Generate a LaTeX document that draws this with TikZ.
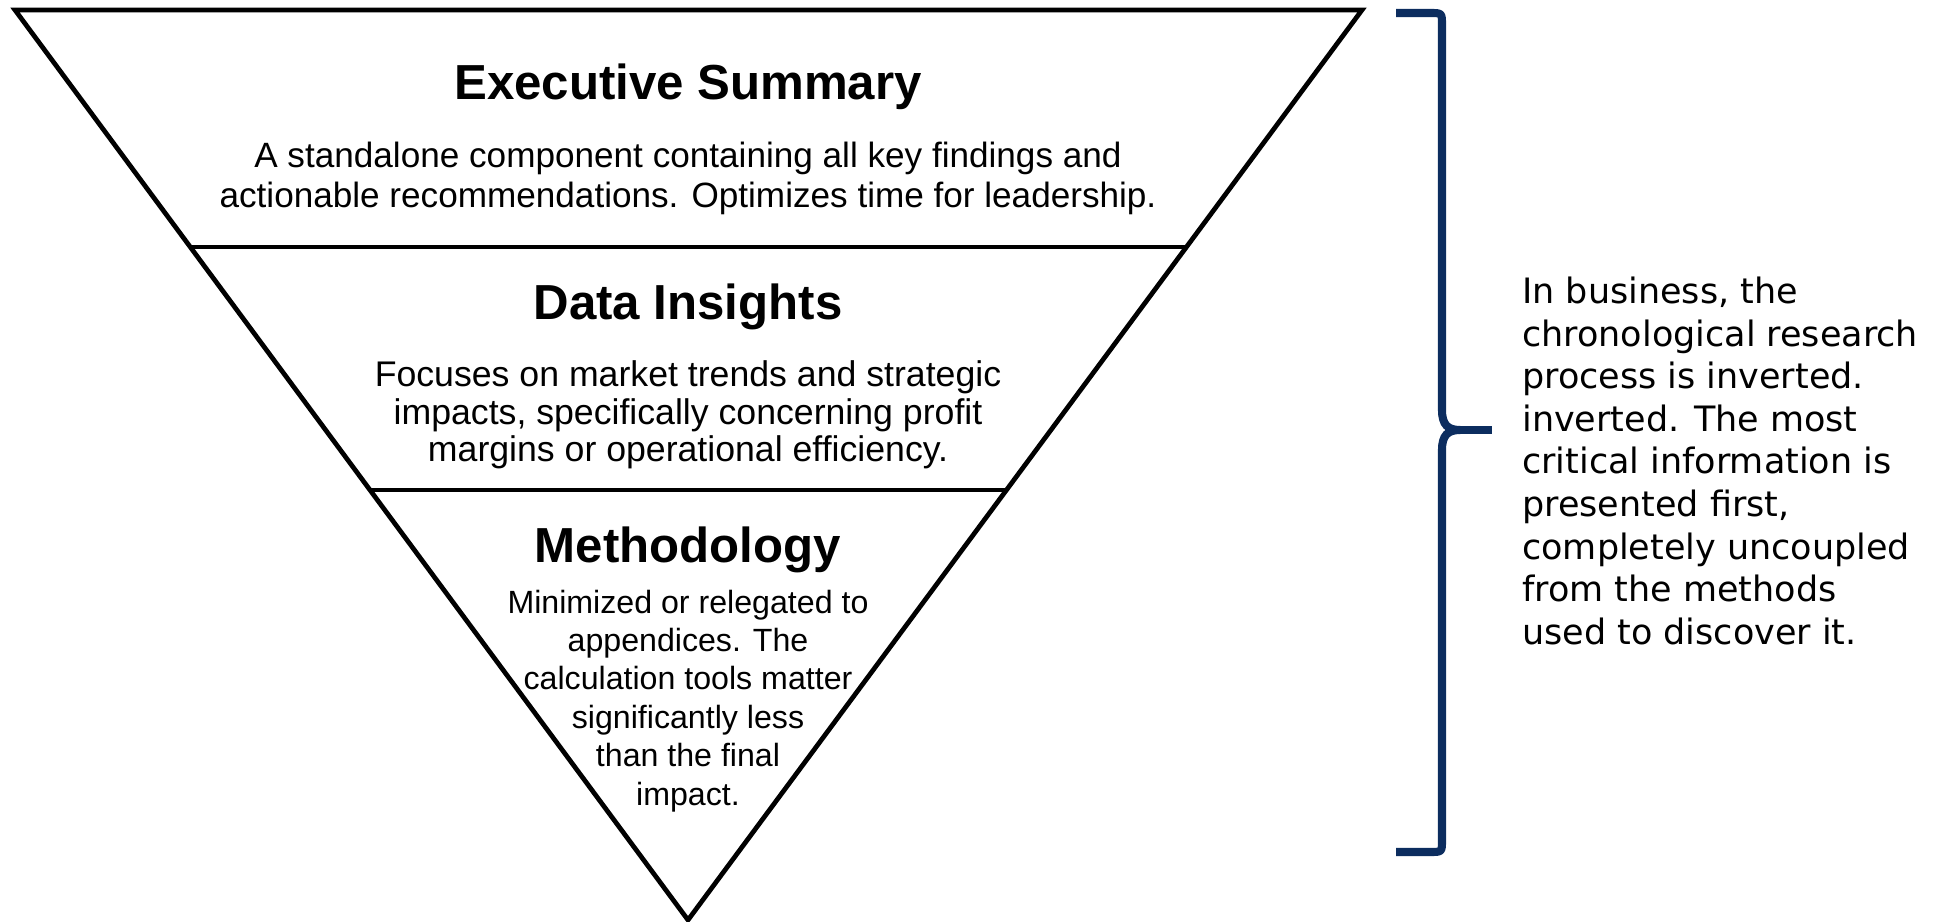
\documentclass[tikz,border=0pt]{standalone}
\usepackage{fontspec}
\setmainfont{Liberation Sans}
\newfontfamily\notefont{DejaVu Sans}
\usetikzlibrary{positioning,calc}
\definecolor{bracenavy}{RGB}{12,45,95}

\begin{document}
\begin{tikzpicture}
[x=0.02cm,y=-0.02cm,
layer/.style={draw=black,line width=2.7pt,line join=miter},
divider/.style={line width=2.7pt},
head/.style={font=\fontsize{28}{30}\selectfont\bfseries,inner sep=0pt},
body/.style={font=\fontsize{20}{22}\selectfont,align=center,inner sep=0pt},
note/.style={font=\notefont\fontsize{19.9}{24.2}\selectfont,align=left,inner sep=0pt,anchor=north west},
bracepath/.style={draw=bracenavy,line width=4.6pt,line join=round}]

\useasboundingbox (0,0) rectangle (1952,922);

% inverted pyramid
\coordinate (tl) at (15,10);
\coordinate (tr) at (1362,10);
\coordinate (apex) at (688,920);
\draw[layer] (tl) -- (tr) -- (apex) -- cycle;
\draw[divider] ($(tl)!0.2604!(apex)$) -- ($(tr)!0.2604!(apex)$);
\draw[divider] ($(tl)!0.5275!(apex)$) -- ($(tr)!0.5275!(apex)$);

\node (exec) [head] at (688,87) {Executive Summary};
\node (execbody) [body,font=\fontsize{20}{23.2}\selectfont,below=0.62cm of exec]
  {A standalone component containing all key findings and\\
   actionable recommendations. Optimizes time for leadership.};

\node (data) [head] at (688,307) {Data Insights};
\node (databody) [body,font=\fontsize{20.3}{21.3}\selectfont,below=0.6cm of data]
  {Focuses on market trends and strategic\\
   impacts, specifically concerning profit\\
   margins or operational efficiency.};

\node (meth) [head] at (688,550) {Methodology};
\node (methbody) [body,font=\fontsize{18.3}{21.9}\selectfont,below=0.32cm of meth]
  {Minimized or relegated to\\
   appendices. The\\
   calculation tools matter\\
   significantly less\\
   than the final\\
   impact.};

% brace and side note
\coordinate (btop) at (1396,13);
\coordinate (bbot) at (1396,852);
\coordinate (bmid) at (1460,430);
\coordinate (btip) at (1492,430);
\draw[bracepath] (btop) -- (1430,13) .. controls (1442,13) .. (1442,25) -- (1442,410)
  .. controls (1442,425) and (1448,430) .. (bmid)
  .. controls (1448,430) and (1442,435) .. (1442,450)
  -- (1442,840) .. controls (1442,852) .. (1430,852) -- (bbot);
\draw[bracepath] (bmid) -- (btip);

\node (story) [note] at (1522,277)
  {In business, the\\
   chronological research\\
   process is inverted.\\
   inverted. The most\\
   critical information is\\
   presented first,\\
   completely uncoupled\\
   from the methods\\
   used to discover it.};

\end{tikzpicture}
\end{document}
